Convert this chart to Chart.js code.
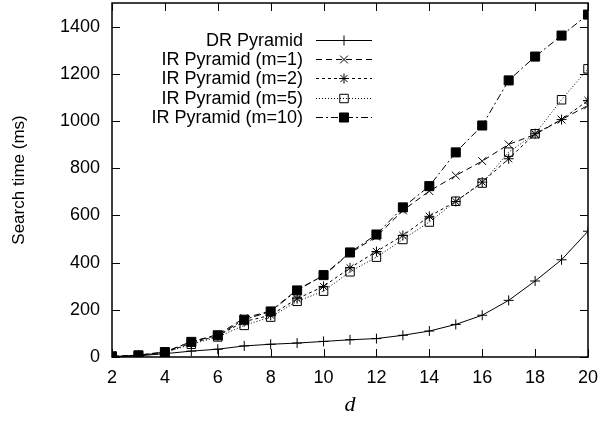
<!DOCTYPE html>
<html>
<head>
<meta charset="utf-8">
<script src="https://cdn.jsdelivr.net/npm/chart.js@4.4.1/dist/chart.umd.min.js"></script>
<style>
  html, body { margin: 0; padding: 0; background: #fff; }
  #wrap { width: 602px; height: 421px; }
</style>
</head>
<body>
<div id="wrap"><canvas id="chart" width="602" height="421"></canvas></div>
<script>
// values
const dValues = [2, 3, 4, 5, 6, 7, 8, 9, 10, 11, 12, 13, 14, 15, 16, 17, 18, 19, 20];
const drPyramid = [1, 5, 14, 25, 33, 47, 54, 59, 66, 73, 78, 92, 110, 138, 177, 240, 322, 412, 533];
const irM1 = [3, 8, 22, 65, 95, 165, 195, 285, 345, 440, 510, 621, 703, 769, 830, 901, 943, 1006, 1066];
const irM2 = [2, 7, 20, 58, 90, 150, 177, 247, 299, 378, 447, 515, 596, 659, 741, 840, 946, 1006, 1087];
const irM5 = [2, 6, 18, 54, 85, 134, 169, 236, 279, 361, 423, 498, 572, 660, 737, 868, 946, 1090, 1221];
const irM10 = [3, 7, 21, 64, 92, 158, 193, 282, 347, 443, 519, 634, 724, 867, 981, 1172, 1273, 1362, 1451];
const yTicks = [0, 200, 400, 600, 800, 1000, 1200, 1400];
const xTicks = [2, 4, 6, 8, 10, 12, 14, 16, 18, 20];

function pts(vals) {
    let out = [];
    for (let i = 0; i < dValues.length; i++) {
        out.push({x: dValues[i], y: vals[i]});
    }
    return out;
}

function series(label, vals, dash, style, radius, fill) {
    return {
        label: label,
        data: pts(vals),
        borderColor: '#000',
        borderWidth: 1,
        borderDash: dash,
        pointStyle: style,
        pointRadius: radius,
        pointHoverRadius: radius,
        pointBorderColor: '#000',
        pointBorderWidth: 1,
        pointBackgroundColor: fill,
        backgroundColor: fill,
        fill: false,
        tension: 0
    };
}

// gnuplot style frame, inward ticks on all sides and the key
const framePlugin = {
    id: 'frame',
    afterLayout(chart) {
        // plot top sits 3px under the canvas edge
        const ys = chart.scales.y;
        ys.top = 3;
        ys.height = ys.bottom - ys.top;
        ys.configure();
        chart.chartArea.top = 3;
        chart.chartArea.height = chart.chartArea.bottom - 3;
    },
    afterDraw(chart) {
        const ctx = chart.ctx;
        const a = chart.chartArea;
        const xs = chart.scales.x, ys = chart.scales.y;
        ctx.save();
        ctx.strokeStyle = '#000';
        ctx.fillStyle = '#000';
        ctx.lineWidth = 1.5;
        ctx.setLineDash([]);
        ctx.beginPath();
        ctx.rect(a.left, a.top, a.right - a.left, a.bottom - a.top);
        ctx.stroke();
        ctx.lineWidth = 1;
        ctx.beginPath();
        xTicks.forEach(v => {
            const px = Math.round(xs.getPixelForValue(v)) + 0.5;
            ctx.moveTo(px, a.bottom); ctx.lineTo(px, a.bottom - 8);
            ctx.moveTo(px, a.top); ctx.lineTo(px, a.top + 8);
        });
        yTicks.forEach(v => {
            const py = Math.round(ys.getPixelForValue(v)) + 0.5;
            ctx.moveTo(a.left, py); ctx.lineTo(a.left + 8, py);
            ctx.moveTo(a.right, py); ctx.lineTo(a.right - 8, py);
        });
        ctx.stroke();

        // key
        const textRight = 303, x0 = 316, x1 = 372, top = 40, step = 19.2;
        ctx.font = '18px "Liberation Sans", Arial, sans-serif';
        ctx.textAlign = 'right';
        ctx.textBaseline = 'middle';
        chart.data.datasets.forEach((ds, i) => {
            const y = Math.round(top + i * step) + 0.5;
            ctx.fillStyle = '#000';
            ctx.strokeStyle = '#000';
            ctx.fillText(ds.label, textRight, y + 1);
            ctx.beginPath();
            ctx.setLineDash(ds.borderDash);
            ctx.lineWidth = 1;
            ctx.moveTo(x0, y);
            ctx.lineTo(x1, y);
            ctx.stroke();
            ctx.setLineDash([]);
            ctx.fillStyle = ds.pointBackgroundColor;
            Chart.helpers.drawPoint(ctx, {
                pointStyle: ds.pointStyle,
                radius: ds.pointRadius,
                borderWidth: 1
            }, (x0 + x1) / 2, y);
        });
        ctx.restore();
    }
};

new Chart(document.getElementById('chart'), {
    type: 'line',
    data: {
        datasets: [
            series('DR Pyramid', drPyramid, [], 'cross', 5, '#000'),
            series('IR Pyramid (m=1)', irM1, [6, 4], 'crossRot', 5.5, '#000'),
            series('IR Pyramid (m=2)', irM2, [3, 3], 'star', 5, '#000'),
            series('IR Pyramid (m=5)', irM5, [1, 2], 'rect', 6, 'rgba(255,255,255,0)'),
            series('IR Pyramid (m=10)', irM10, [7, 3, 2, 3], 'rect', 6.4, '#000')
        ]
    },
    options: {
        responsive: false,
        animation: false,
        layout: { padding: { left: 0, right: 14, top: 3, bottom: 0 } },
        plugins: {
            legend: { display: false },
            tooltip: { enabled: false }
        },
        scales: {
            x: {
                type: 'linear',
                min: 2,
                max: 20,
                grid: { display: false, drawTicks: false },
                border: { display: false },
                afterBuildTicks: s => { s.ticks = xTicks.map(v => ({value: v})); },
                afterFit: s => { s.height = 64; s.paddingLeft = 0; s.paddingRight = 0; },
                ticks: {
                    color: '#000',
                    padding: 10,
                    maxRotation: 0,
                    callback: v => String(v),
                    font: { family: '"Liberation Sans", Arial, sans-serif', size: 18 }
                },
                title: {
                    display: true,
                    text: 'd',
                    color: '#000',
                    padding: { top: 0, bottom: 3 },
                    font: { family: '"Liberation Serif", "Times New Roman", serif', size: 22, style: 'italic' }
                }
            },
            y: {
                min: 0,
                max: 1500,
                grid: { display: false, drawTicks: false },
                border: { display: false },
                afterBuildTicks: s => { s.ticks = yTicks.map(v => ({value: v})); },
                afterFit: s => { s.width = 112; s.paddingTop = 0; s.paddingBottom = 0; },
                ticks: {
                    color: '#000',
                    padding: 12,
                    callback: v => String(v),
                    font: { family: '"Liberation Sans", Arial, sans-serif', size: 18 }
                },
                title: {
                    display: true,
                    text: 'Search time (ms)',
                    color: '#000',
                    padding: { top: 9, bottom: 0 },
                    font: { family: '"Liberation Sans", Arial, sans-serif', size: 17 }
                }
            }
        }
    },
    plugins: [framePlugin]
});
</script>
</body>
</html>
